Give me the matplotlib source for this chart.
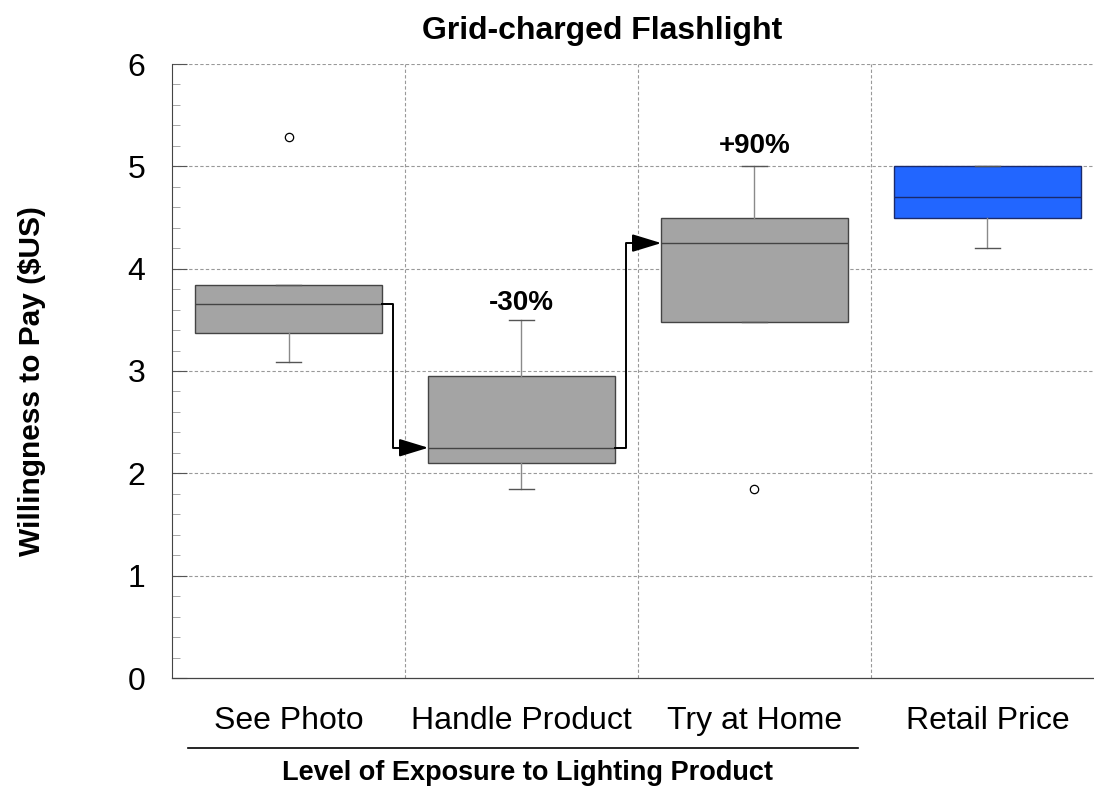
import matplotlib
matplotlib.use("Agg")
import matplotlib.pyplot as plt
from matplotlib.lines import Line2D
from matplotlib.ticker import MultipleLocator

plt.rcParams['font.family'] = ['Liberation Sans', 'DejaVu Sans']

categories = ["See Photo", "Handle Product", "Try at Home", "Retail Price"]
whislo = [3.09, 1.85, 3.48, 4.20]
q1 = [3.37, 2.10, 3.48, 4.50]
med = [3.65, 2.25, 4.25, 4.70]
q3 = [3.84, 2.95, 4.50, 5.00]
whishi = [3.84, 3.50, 5.00, 5.00]
outliers = [[5.29], [], [1.85], []]
change_labels = ["-30%", "+90%"]
change_pos = [3.66, 5.20]

fig = plt.figure(figsize=(10.94, 7.87), dpi=100)
ax = fig.add_axes([172 / 1094, 109 / 787, 1 - 172 / 1094, 614 / 787])

stats = []
for i in range(len(categories)):
    stats.append(dict(label=categories[i], whislo=whislo[i], q1=q1[i], med=med[i],
                      q3=q3[i], whishi=whishi[i], fliers=outliers[i]))

positions = [1, 2, 3, 4]
bp = ax.bxp(stats, positions=positions, widths=0.8, patch_artist=True,
            showfliers=True,
            boxprops=dict(facecolor="#a4a4a4", edgecolor="#444444", linewidth=1.0),
            medianprops=dict(color="#444444", linewidth=1.0),
            whiskerprops=dict(color="#8a8a8a", linewidth=1.0),
            capprops=dict(color="#555555", linewidth=1.0),
            capwidths=0.11,
            flierprops=dict(marker="o", markerfacecolor="white", markeredgecolor="black",
                            markersize=6, markeredgewidth=0.9))
bp["boxes"][3].set_facecolor("#2266ff")
bp["boxes"][3].set_edgecolor("#1a2a6c")
bp["medians"][3].set_color("#1a2a6c")
for b in bp["boxes"] + bp["medians"] + bp["whiskers"] + bp["caps"]:
    b.set_zorder(3)

# elbow arrows between median values
for i in range(2):
    x0 = positions[i] + 0.4
    xe = x0 + 0.05
    x1 = positions[i + 1] - 0.4
    ax.plot([x0, xe, xe, x1 - 0.08], [med[i], med[i], med[i + 1], med[i + 1]],
            color="black", linewidth=1.4, zorder=4)
    ax.annotate("", xy=(x1, med[i + 1]), xytext=(x1 - 0.12, med[i + 1]),
                arrowprops=dict(arrowstyle="-|>,head_length=1.8,head_width=0.55",
                                color="black", linewidth=1.4, shrinkA=0, shrinkB=0),
                zorder=5)

for lbl, xp, yp in zip(change_labels, [2, 3], change_pos):
    ax.text(xp, yp, lbl, ha="center", va="center", fontsize=20, fontweight="bold", zorder=6)

ax.set_xlim(0.5, 0.5 + 922 / 233)
ax.set_ylim(0, 6)
ax.yaxis.set_major_locator(MultipleLocator(1))
ax.yaxis.set_minor_locator(MultipleLocator(0.2))
ax.tick_params(axis="y", which="major", direction="in", length=11, color="#555555",
               labelsize=23, pad=19)
ax.tick_params(axis="y", which="minor", direction="in", length=6, color="#999999")
ax.set_xticks(positions)
ax.set_xticklabels(categories, fontsize=23)
ax.tick_params(axis="x", length=0, pad=20)

for yv in range(1, 7):
    ax.axhline(yv, color="#999999", linestyle=(0, (3, 2)), linewidth=0.8, zorder=1)
for xv in [1.5, 2.5, 3.5]:
    ax.axvline(xv, color="#999999", linestyle=(0, (3, 2)), linewidth=0.8, zorder=1)

for s in ["top", "right"]:
    ax.spines[s].set_visible(False)
ax.spines["left"].set_color("#444444")
ax.spines["bottom"].set_color("#444444")
ax.spines["bottom"].set_linestyle((0, (3, 1)))
ax.spines["bottom"].set_linewidth(0.9)

ax.set_title("Grid-charged Flashlight", fontsize=23, fontweight="bold", pad=18,
             x=(602 - 172) / 922)
ax.set_ylabel("Willingness to Pay ($US)", fontsize=21.5, fontweight="bold")
ax.yaxis.set_label_coords(-0.137, 0.484)

# bracket line under the first three categories
fig.add_artist(Line2D([188 / 1094, 858 / 1094], [1 - 748 / 787, 1 - 748 / 787],
                      color="black", linewidth=1.2))
fig.text(528 / 1094, 1 - 773 / 787, "Level of Exposure to Lighting Product",
         ha="center", va="center", fontsize=19.5, fontweight="bold")

fig.savefig("out.png", dpi=100)
